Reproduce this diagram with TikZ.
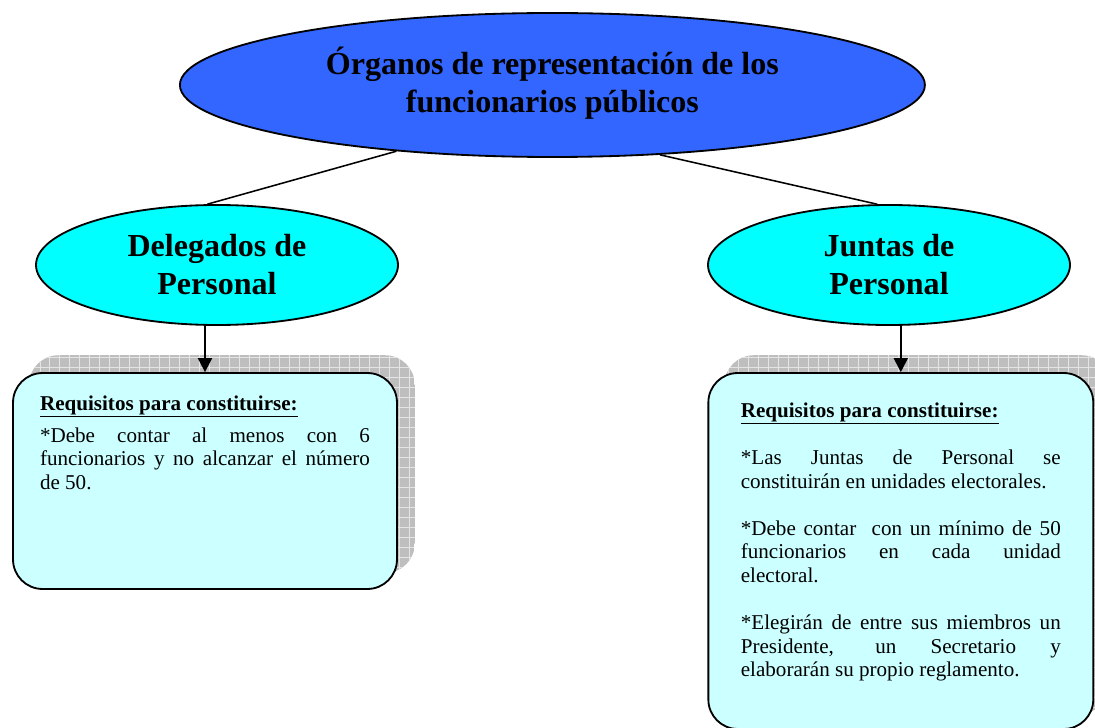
\documentclass[tikz,border=0pt]{standalone}
\usepackage{fontspec}
\setmainfont{Liberation Serif}
\usepackage{tikz}
\usetikzlibrary{shapes,arrows.meta,positioning,calc,backgrounds}

\definecolor{topblue}{HTML}{3366FF}
\definecolor{nodecyan}{HTML}{00FFFF}
\definecolor{boxcyan}{HTML}{CCFFFF}
\definecolor{shadowgray}{HTML}{BEBEBE}
\definecolor{gridgray}{HTML}{E4E4E4}

\tikzset{
  organo/.style={ellipse, draw, line width=1.3pt, inner sep=0pt, align=center,
    font=\fontsize{22.8}{27}\selectfont\bfseries},
  reqbox/.style={rectangle, draw, line width=1.3pt, rounded corners=21pt, fill=boxcyan,
    font=\fontsize{15}{16.8}\selectfont},
}

\begin{document}
\begin{tikzpicture}
        \useasboundingbox (0,0) rectangle (27.375,18.175);

        % Ellipses
        \node (organos) [organo, fill=topblue, minimum width=18.625cm, minimum height=3.6cm] at (13.81,16.05) {Órganos de representación de los\\funcionarios públicos\vphantom{$_{_{j}}$}};
        \node (delegados) [organo, fill=nodecyan, minimum width=9.05cm, minimum height=3cm] at (5.425,11.55) {Delegados de\\Personal};
        \node (juntas) [organo, fill=nodecyan, minimum width=9.05cm, minimum height=3cm] at (22.225,11.55) {Juntas de\\Personal};

        % Boxes
        \node (reqdel) [reqbox, inner xsep=19.2pt, inner ysep=16pt] at (5.125,6.15) {\parbox[c][121.6pt][t]{234.7pt}{\hyphenpenalty=10000\tolerance=9999
          \underline{\textbf{Requisitos para constituirse:}}\par\vspace{6pt}
          *Debe contar al menos con 6\linebreak funcionarios y no alcanzar el número\linebreak de 50.}};
        \node (reqjun) [reqbox, inner xsep=23.1pt, inner ysep=21pt] at (22.52,4.4) {\parbox[c][211.2pt][t]{227.6pt}{\hyphenpenalty=10000\tolerance=9999
          \underline{\textbf{Requisitos para constituirse:}}\par\vspace{16.8pt}
          *Las Juntas de Personal se\linebreak constituirán en unidades electorales.\par\vspace{16.8pt}
          *Debe contar\ \ con un mínimo de 50\linebreak funcionarios en cada unidad\linebreak electoral.\par\vspace{16.8pt}
          *Elegirán de entre sus miembros un\linebreak Presidente, un Secretario y\linebreak elaborarán su propio reglamento.}};

        % Shadows
        \begin{scope}[on background layer]
          \foreach \b in {reqdel,reqjun}{
            \begin{scope}
              \clip[rounded corners=21pt] ($(\b.south west)+(12pt,12pt)$) rectangle ($(\b.north east)+(12pt,12pt)$);
              \fill[shadowgray] ($(\b.south west)+(12pt,12pt)$) rectangle ($(\b.north east)+(12pt,12pt)$);
              \draw[gridgray, line width=0.6pt, step=7.1pt] ($(\b.south west)+(12pt,12pt)$) grid ($(\b.north east)+(12pt,12pt)$);
            \end{scope}
          }
        \end{scope}

        % Lines
        \draw[line width=1.1pt] (organos.203) -- (delegados.99);
        \draw[line width=1.1pt] (organos.327) -- (juntas.101);
        \draw[line width=1.3pt, -{Triangle[width=10pt,length=10pt]}] (delegados.south -| reqdel.north) -- (reqdel.north);
        \draw[line width=1.3pt, -{Triangle[width=10pt,length=10pt]}] (juntas.south -| reqjun.north) -- (reqjun.north);
\end{tikzpicture}
\end{document}
